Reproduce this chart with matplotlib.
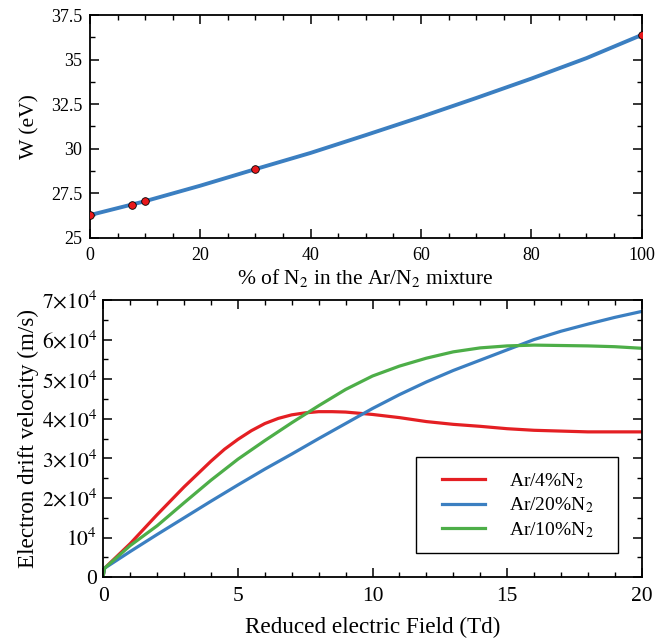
import numpy as np
import matplotlib
matplotlib.use('Agg')
import matplotlib.pyplot as plt
from matplotlib.patches import Rectangle
from matplotlib.ticker import MultipleLocator, FuncFormatter

plt.rcParams['font.family'] = ['Liberation Serif', 'DejaVu Serif']
plt.rcParams['mathtext.fontset'] = 'stix'

# 위쪽 그래프: W 값 (측정점 + 피팅 곡선)
n2_pct = [0, 7.7, 10, 30, 100]
w_ev = [26.3, 26.85, 27.06, 28.86, 36.4]
w_err = [0.15, 0.15, 0.15, 0.15, 0.15]

fit_x = [0, 10, 20, 30, 40, 50, 60, 70, 80, 90, 100]
fit_w = [26.27, 27.05, 27.92, 28.85, 29.76, 30.76, 31.78, 32.84, 33.93, 35.08, 36.38]

# 아래쪽 그래프: 전자 드리프트 속도 (단위 1e4 m/s)
field_red = [0, 0.05, 1, 2, 3, 4, 4.5, 5, 5.5, 6, 6.5, 7, 7.5, 8, 8.5, 9,
             10, 11, 12, 13, 14, 15, 16, 17, 18, 19, 20]
v_4 = [0.05, 0.23, 0.85, 1.58, 2.28, 2.93, 3.23, 3.48, 3.7, 3.88, 4.01, 4.1, 4.15, 4.18, 4.18, 4.17,
       4.11, 4.03, 3.93, 3.86, 3.81, 3.75, 3.71, 3.69, 3.67, 3.67, 3.67]
field = [0, 0.05, 1, 2, 3, 4, 5, 6, 7, 8, 9, 10, 11, 12, 13, 14, 15, 16, 17, 18, 19, 20]
v_20 = [0.05, 0.23, 0.65, 1.08, 1.5, 1.92, 2.33, 2.73, 3.11, 3.5, 3.88, 4.26, 4.61, 4.93,
        5.22, 5.48, 5.74, 6.0, 6.21, 6.39, 6.56, 6.71]
v_10 = [0.05, 0.23, 0.8, 1.3, 1.88, 2.45, 2.98, 3.45, 3.9, 4.33, 4.74, 5.08, 5.33, 5.53,
        5.69, 5.79, 5.84, 5.86, 5.85, 5.84, 5.82, 5.78]

c_red = '#e41f23'
c_blue = '#3b7fc1'
c_green = '#4dae48'

fig = plt.figure(figsize=(6.63, 6.39), dpi=100)
ax1 = fig.add_axes([0.1357, 0.628, 0.8321, 0.3485])
ax2 = fig.add_axes([0.1558, 0.0966, 0.8121, 0.434])


def style_axis(ax, size, xpad, ypad):
    ax.tick_params(which='both', direction='in', top=True, right=True, labelsize=size)
    ax.tick_params(which='major', length=6.5, width=1.1)
    ax.tick_params(which='minor', length=3.5, width=1.0)
    ax.tick_params(axis='x', pad=xpad)
    ax.tick_params(axis='y', pad=ypad)
    for s in ax.spines.values():
        s.set_linewidth(1.3)


# 위쪽
ax1.plot(fit_x, fit_w, color=c_blue, lw=2.8, zorder=2)
ax1.errorbar(n2_pct, w_ev, yerr=w_err, fmt='o', color='black', ms=5.5,
             mfc='#e8181c', mec='black', mew=0.6, elinewidth=0.8, capsize=0, zorder=3)
ax1.set_xlim(0, 100)
ax1.set_ylim(25, 37.5)
ax1.xaxis.set_major_locator(MultipleLocator(20))
ax1.xaxis.set_minor_locator(MultipleLocator(5))
ax1.yaxis.set_major_locator(MultipleLocator(2.5))
ax1.yaxis.set_minor_locator(MultipleLocator(1.25))
ax1.yaxis.set_major_formatter(FuncFormatter(lambda v, p: f'{v:g}'))
ax1.set_xlabel(r'% of N$_2$ in the Ar/N$_2$ mixture', fontsize=15.5, labelpad=2)
ax1.set_ylabel('W (eV)', fontsize=15.5, labelpad=8)
style_axis(ax1, 13, 7, 5.5)

# 아래쪽
ax2.plot(field_red, np.array(v_4) * 1e4, color=c_red, lw=2.3, label=r'Ar/4%N$_2$')
ax2.plot(field, np.array(v_20) * 1e4, color=c_blue, lw=2.3, label=r'Ar/20%N$_2$')
ax2.plot(field, np.array(v_10) * 1e4, color=c_green, lw=2.3, label=r'Ar/10%N$_2$')
ax2.set_xlim(0, 20)
ax2.set_ylim(0, 7e4)
ax2.xaxis.set_major_locator(MultipleLocator(5))
ax2.xaxis.set_minor_locator(MultipleLocator(1))
ax2.yaxis.set_major_locator(MultipleLocator(1e4))
ax2.yaxis.set_minor_locator(MultipleLocator(5e3))


def sci_fmt(v, p):
    k = int(round(v / 1e4))
    if k == 0:
        return '0'
    if k == 1:
        return r'$10^4$'
    return r'$%d{\times}10^4$' % k


ax2.yaxis.set_major_formatter(FuncFormatter(sci_fmt))
ax2.set_xlabel('Reduced electric Field (Td)', fontsize=16.7, labelpad=8)
ax2.set_ylabel('Electron drift velocity (m/s)', fontsize=16.7, labelpad=2)
style_axis(ax2, 15.5, 7, 4.5)

# 범례: 테두리는 따로 그림 (좌우 여백이 위아래보다 넓음)
ax2.add_patch(Rectangle((0.580, 0.0866), 0.3765, 0.346, transform=ax2.transAxes,
                        fill=False, edgecolor='black', lw=1.0, zorder=5))
leg = ax2.legend(loc='center', bbox_to_anchor=(0.770, 0.2597), fontsize=14,
                 handlelength=2.2, handletextpad=1.25, labelspacing=0.25,
                 borderpad=0, borderaxespad=0, frameon=False)

fig.savefig('out.png', dpi=100)
